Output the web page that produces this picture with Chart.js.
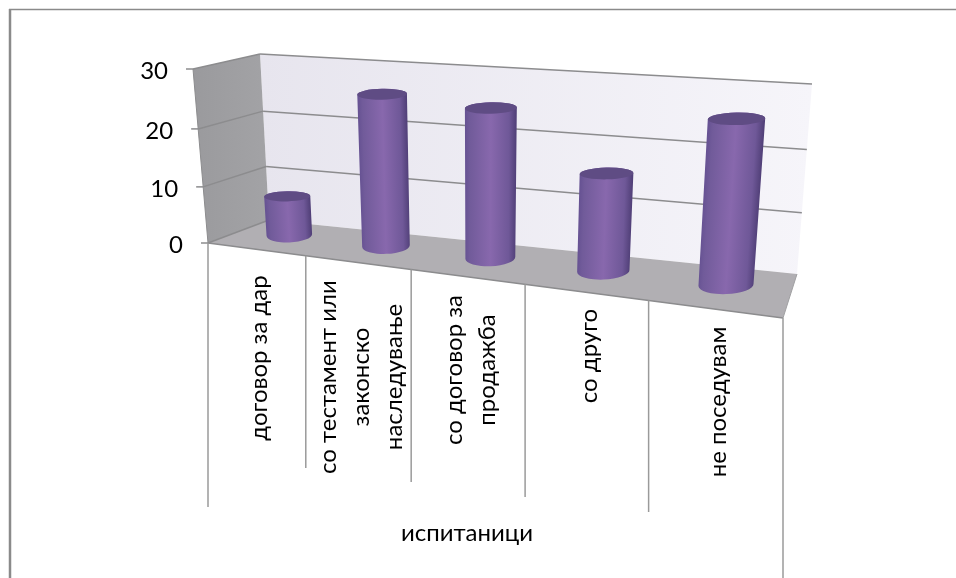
<!DOCTYPE html>
<html>
<head>
<meta charset="utf-8">
<style>
  body { margin: 0; background: #fff; }
  canvas { display: block; }
</style>
<script src="https://cdn.jsdelivr.net/npm/chart.js@4/dist/chart.umd.min.js"></script>
</head>
<body>
<canvas id="myChart" width="956" height="578"></canvas>
<script>
  var categories = [
    ["договор за дар"],
    ["со тестамент или", "законско", "наследување"],
    ["со договор за", "продажба"],
    ["со друго"],
    ["не поседувам"]
  ];
  var seriesName = "испитаници";
  var values = [7, 26, 25, 16, 26];
  var yTicks = [0, 10, 20, 30];

  // corners of the 3d box on the page: front/back, bottom/top, left/right
  var box = {
    fbl: [208, 243], fbr: [783, 318], bbl: [269, 220], bbr: [797, 274],
    ftl: [193, 69],  ftr: [799, 113], btl: [260, 54],  btr: [812, 84]
  };
  var barDepth = 0.58;
  var dividerEnds = [507, 468, 482, 497, 512, 578];
  var labelMiddles = [358, 377, 370, 356, 402];
  var font = "Lato";
  var fontSize = 24;

  function lerp(a, b, t) {
    return [a[0] + (b[0] - a[0]) * t, a[1] + (b[1] - a[1]) * t];
  }

  // u along the floor, v up the wall, d from front to back, all 0..1
  function project(u, v, d) {
    var pu = u / (1.22 - 0.22 * u);
    var pv = v / (1.05 - 0.05 * v);
    var bottom = lerp(lerp(box.fbl, box.fbr, pu), lerp(box.bbl, box.bbr, pu), d);
    var top = lerp(lerp(box.ftl, box.ftr, pu), lerp(box.btl, box.btr, pu), d);
    return lerp(bottom, top, pv);
  }

  function poly(ctx, pts, fill) {
    ctx.beginPath();
    ctx.moveTo(pts[0][0], pts[0][1]);
    for (var i = 1; i < pts.length; i++) ctx.lineTo(pts[i][0], pts[i][1]);
    ctx.closePath();
    ctx.fillStyle = fill;
    ctx.fill();
  }

  function line(ctx, a, b, color, width) {
    ctx.beginPath();
    ctx.moveTo(a[0], a[1]);
    ctx.lineTo(b[0], b[1]);
    ctx.strokeStyle = color;
    ctx.lineWidth = width;
    ctx.stroke();
  }

  var room = {
    id: "room",
    beforeDatasetsDraw: function (chart) {
      var ctx = chart.ctx;
      var yScale = chart.scales.y;
      var xScale = chart.scales.x;
      var gray = "#8c8c8e";

      // frame of the picture
      line(ctx, [9, 9.5], [956, 9.5], "#8a8a8a", 1.5);
      line(ctx, [10, 9], [10, 578], "#8a8a8a", 2.5);

      // walls and floor
      var g = ctx.createLinearGradient(box.btl[0], 0, box.btr[0], 0);
      g.addColorStop(0, "#e7e5ee");
      g.addColorStop(1, "#f6f5fa");
      poly(ctx, [box.btl, box.btr, box.bbr, box.bbl], g);
      var lg = ctx.createLinearGradient(box.ftl[0], 0, box.bbl[0], 0);
      lg.addColorStop(0, "#9a9a9d");
      lg.addColorStop(1, "#a3a3a6");
      poly(ctx, [box.ftl, box.btl, box.bbl, box.fbl], lg);
      poly(ctx, [box.fbl, box.fbr, box.bbr, box.bbl], "#b1afb3");

      // gridlines from the value scale
      yTicks.forEach(function (t) {
        var v = (yScale.bottom - yScale.getPixelForValue(t)) / (yScale.bottom - yScale.top);
        var front = project(0, v, 0);
        var back = project(0, v, 1);
        line(ctx, [front[0] - 7, front[1]], front, gray, 1.5);
        line(ctx, front, back, gray, 1.5);
        if (t > 0) line(ctx, back, project(1, v, 1), gray, 1.5);

        ctx.fillStyle = "#000";
        ctx.font = fontSize + "px " + font;
        ctx.textAlign = "right";
        ctx.textBaseline = "middle";
        ctx.fillText(String(t), front[0] - 25, front[1] + 2.5);
      });
      line(ctx, box.ftl, box.fbl, gray, 1);
      line(ctx, box.fbl, box.fbr, gray, 1.5);
      line(ctx, box.fbr, box.bbr, "#a0a0a2", 1);

      // dividers and category labels under the floor
      for (var i = 0; i <= categories.length; i++) {
        var p = project(i / categories.length, 0, 0);
        line(ctx, [p[0], p[1]], [p[0], dividerEnds[i]], "#9a9a9a", 1.5);
      }
      categories.forEach(function (lines, i) {
        var u = (xScale.getPixelForTick(i) - xScale.left) / (xScale.right - xScale.left);
        var step = 1 / categories.length / 2;
        var mid = (project(u - step, 0, 0)[0] + project(u + step, 0, 0)[0]) / 2 + 2.5;
        lines.forEach(function (text, j) {
          ctx.save();
          ctx.translate(mid + (j - (lines.length - 1) / 2) * 33, labelMiddles[i]);
          ctx.rotate(-Math.PI / 2);
          ctx.fillStyle = "#000";
          ctx.font = fontSize + "px " + font;
          ctx.textAlign = "center";
          ctx.textBaseline = "middle";
          ctx.fillText(text, 0, 0);
          ctx.restore();
        });
      });

      // axis title
      ctx.fillStyle = "#000";
      ctx.font = fontSize + "px " + font;
      ctx.textAlign = "center";
      ctx.textBaseline = "middle";
      ctx.fillText(seriesName, 467, 533);
    },
    // the bars keep their place from the scales, only the look is a cylinder
    beforeDatasetDraw: function (chart, args) {
      var ctx = chart.ctx;
      var area = chart.chartArea;
      args.meta.data.forEach(function (bar) {
        var u = (bar.x - area.left) / (area.right - area.left);
        // the warp in project() widens the far right too much, pull it back a bit
        var du = bar.width / 2 / (area.right - area.left) * (1.08 - 0.16 * u);
        var v = (bar.base - bar.y) / (area.bottom - area.top);

        var bl = project(u - du, 0, barDepth), br = project(u + du, 0, barDepth);
        var tl = project(u - du, v, barDepth), tr = project(u + du, v, barDepth);
        var bx = (bl[0] + br[0]) / 2, by = (bl[1] + br[1]) / 2, brx = (br[0] - bl[0]) / 2;
        var tx = (tl[0] + tr[0]) / 2, ty = (tl[1] + tr[1]) / 2, trx = (tr[0] - tl[0]) / 2;

        var g = ctx.createLinearGradient(tx - trx, 0, tx + trx, 0);
        g.addColorStop(0, "#655192");
        g.addColorStop(0.1, "#715b9a");
        g.addColorStop(0.5, "#8868ad");
        g.addColorStop(0.85, "#6f5898");
        g.addColorStop(1, "#4f3e76");

        ctx.beginPath();
        ctx.ellipse(bx, by, brx, brx * 0.33, -0.04, Math.PI, 0, true);
        ctx.ellipse(tx, ty, trx, trx * 0.22, -0.02, 0, Math.PI, true);
        ctx.closePath();
        // lean the gradient with the cylinder so the shading follows its sides
        ctx.save();
        var lean = (bx - tx) / (by - ty);
        ctx.transform(1, 0, lean, 1, -lean * ty, 0);
        ctx.fillStyle = g;
        ctx.fill();
        ctx.restore();

        ctx.beginPath();
        ctx.ellipse(tx, ty, trx, trx * 0.22, -0.02, 0, Math.PI * 2);
        ctx.fillStyle = "#5f4c84";
        ctx.fill();
      });
      return false;
    }
  };

  var ctx = document.getElementById("myChart").getContext("2d");
  var chart = new Chart(ctx, {
    type: "bar",
    data: {
      labels: categories,
      datasets: [{
        label: seriesName,
        data: values,
        backgroundColor: "#8064a2",
        categoryPercentage: 1,
        barPercentage: 0.46
      }]
    },
    options: {
      responsive: false,
      animation: false,
      layout: { padding: { left: 208, right: 173, top: 69, bottom: 335 } },
      plugins: { legend: { display: false }, tooltip: { enabled: false }, title: { display: false } },
      scales: {
        x: { display: false },
        y: { display: false, min: 0, max: 30, ticks: { stepSize: 10 } }
      }
    },
    plugins: [room]
  });
</script>
</body>
</html>
